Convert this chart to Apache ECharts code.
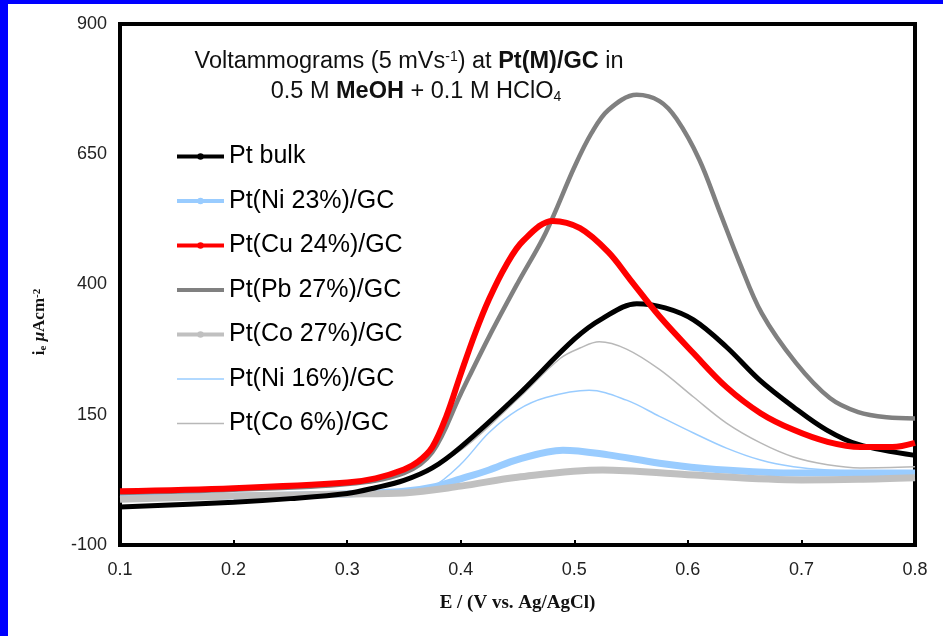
<!DOCTYPE html>
<html><head><meta charset="utf-8">
<script src="https://cdn.jsdelivr.net/npm/echarts@6/dist/echarts.min.js"></script>
<style>
html,body{margin:0;padding:0;background:#fff;}
#chart{position:absolute;left:0;top:0;width:943px;height:636px;}
.bl{position:absolute;left:0;top:0;width:8px;height:636px;background:#0000ff;z-index:5}
.bt{position:absolute;left:0;top:0;width:943px;height:4px;background:#0000ff;z-index:5}
</style></head><body>
<div id="chart"></div><div class="bl"></div><div class="bt"></div>
<script>
// Potential E (V vs. Ag/AgCl) and current density i (µA cm-2)
const ptBulkE = [0.10,0.20,0.25,0.30,0.325,0.35,0.375,0.40,0.45,0.50,0.525,0.555,0.58,0.605,0.634,0.663,0.693,0.722,0.75,0.80];
const ptBulkI = [-27,-18,-11,-1,10,24,48,88,187,295,335,363,355,332,280,217,165,121,93,72];
const ptCu24E = [0.10,0.20,0.30,0.325,0.35,0.3625,0.375,0.3875,0.40,0.4125,0.425,0.44,0.455,0.481,0.505,0.53,0.549,0.575,0.605,0.634,0.664,0.693,0.723,0.752,0.78,0.80];
const ptCu24I = [3,9,20,28,45,60,88,148,228,305,372,437,484,522,508,462,410,339,268,203,153,121,98,88,88,96];
const ptPb27E = [0.10,0.20,0.30,0.35,0.375,0.40,0.425,0.45,0.475,0.50,0.515,0.53,0.555,0.575,0.59,0.61,0.628,0.645,0.665,0.695,0.725,0.75,0.775,0.80];
const ptPb27I = [0,6,17,38,78,190,300,402,500,625,690,735,764,752,718,640,540,445,345,250,182,155,145,143];
const ptNi23E = [0.10,0.20,0.30,0.35,0.375,0.40,0.425,0.45,0.49,0.53,0.575,0.625,0.70,0.80];
const ptNi23I = [-8,-6,-2,3,11,27,44,64,82,73,57,45,38,38];
const ptCo27E = [0.10,0.20,0.30,0.35,0.40,0.45,0.525,0.60,0.70,0.75,0.80];
const ptCo27I = [-12,-6,-2,0,13,30,44,35,25,26,29];
const ptNi16E = [0.10,0.20,0.30,0.35,0.375,0.40,0.425,0.45,0.475,0.513,0.546,0.575,0.605,0.634,0.664,0.693,0.723,0.76,0.80];
const ptNi16I = [-8,-4,0,4,12,55,116,159,183,197,178,147,115,86,63,50,44,41,40];
const ptCo6E  = [0.10,0.20,0.30,0.35,0.40,0.45,0.4875,0.505,0.522,0.546,0.575,0.605,0.634,0.664,0.693,0.723,0.752,0.80];
const ptCo6I  = [-12,-6,2,22,82,180,258,278,290,276,237,184,134,96,69,54,48,50];
const seriesNames = ['Pt bulk','Pt(Ni 23%)/GC','Pt(Cu 24%)/GC','Pt(Pb 27%)/GC','Pt(Co 27%)/GC','Pt(Ni 16%)/GC','Pt(Co 6%)/GC'];
const yTicks = [-100,150,400,650,900];
const xTicks = [0.1,0.2,0.3,0.4,0.5,0.6,0.7,0.8];

function pairs(es, vals){ return es.map((e,i)=>[e, vals[i]]); }
function mk(name, es, vals, color, width, dot){
  return {name, type:'line', data:pairs(es, vals), smooth:0.35, showSymbol:false,
    symbol: dot ? 'circle' : 'none', symbolSize:6,
    lineStyle:{color, width}, itemStyle:{color}, emphasis:{disabled:true}};
}
const chart = echarts.init(document.getElementById('chart'), null, {renderer:'canvas'});
const sans = 'Liberation Sans, Arial, sans-serif';
const serif = 'Liberation Serif, Times New Roman, serif';
const tStyle = {
  n:{fontFamily:sans, fontSize:23.5, fill:'#111'},
  b:{fontFamily:sans, fontSize:23.5, fontWeight:'bold', fill:'#111'},
  sp:{fontFamily:sans, fontSize:14, fill:'#111', verticalAlign:'top'},
  sb:{fontFamily:sans, fontSize:14, fill:'#111', verticalAlign:'bottom'}
};
chart.setOption({
  animation:false,
  backgroundColor:'#fff',
  grid:{left:120, right:28, top:24, bottom:91, show:true, borderColor:'#000', borderWidth:4, backgroundColor:'transparent'},
  xAxis:{type:'value', min:xTicks[0], max:xTicks[xTicks.length-1], interval:0.1,
    name:'E / (V vs. Ag/AgCl)', nameLocation:'middle', nameGap:49,
    nameTextStyle:{fontFamily:serif, fontWeight:'bold', fontSize:19, color:'#111'},
    axisLine:{show:true, onZero:false, lineStyle:{color:'#000', width:4}},
    axisTick:{show:true, inside:true, length:5, lineStyle:{color:'#000', width:2}},
    axisLabel:{margin:16, fontFamily:sans, fontSize:18, color:'#222', formatter:v=>v.toFixed(1)},
    splitLine:{show:false}},
  yAxis:{type:'value', min:yTicks[0], max:yTicks[yTicks.length-1], interval:250,
    axisLine:{show:true, onZero:false, lineStyle:{color:'#000', width:4}},
    axisTick:{show:false},
    axisLabel:{margin:13, fontFamily:sans, fontSize:18, color:'#222'},
    splitLine:{show:false}},
  legend:{orient:'vertical', left:170, top:139, itemWidth:47, itemHeight:8, itemGap:19.5,
    textStyle:{fontFamily:sans, fontSize:25, color:'#000'},
    data:[
      {name:seriesNames[0], lineStyle:{width:4}},
      {name:seriesNames[1], lineStyle:{width:4}},
      {name:seriesNames[2], lineStyle:{width:4}},
      {name:seriesNames[3], lineStyle:{width:4}, itemStyle:{opacity:0}},
      {name:seriesNames[4], lineStyle:{width:4}},
      {name:seriesNames[5], lineStyle:{width:1.5}, itemStyle:{opacity:0}},
      {name:seriesNames[6], lineStyle:{width:1.5}, itemStyle:{opacity:0}}
    ]},
  graphic:[
    {type:'text', x:409, y:62, style:{
      text:'{n|Voltammograms (5 mVs}{sp|-1}{n|) at }{b|Pt(M)/GC}{n| in}',
      align:'center', verticalAlign:'middle', rich:tStyle}},
    {type:'text', x:416, y:92, style:{
      text:'{n|0.5 M }{b|MeOH}{n| + 0.1 M HClO}{sb|4}',
      align:'center', verticalAlign:'middle', rich:tStyle}},
    {type:'text', x:40, y:322, rotation:Math.PI/2, style:{
      text:'{i|i}{sub|e}{i| }{mu|μ}{i|Acm}{sup|-2}',
      align:'center', verticalAlign:'middle',
      rich:{i:{fontFamily:serif, fontWeight:'bold', fontSize:17, fill:'#111'},
            mu:{fontFamily:serif, fontWeight:'bold', fontStyle:'italic', fontSize:17, fill:'#111'},
            sub:{fontFamily:serif, fontWeight:'bold', fontSize:11, fill:'#111', verticalAlign:'bottom'},
            sup:{fontFamily:serif, fontWeight:'bold', fontSize:11, fill:'#111', verticalAlign:'top'}}}}
  ],
  series:[
    mk(seriesNames[6], ptCo6E, ptCo6I, '#b8b8b8', 1.5, false),
    mk(seriesNames[5], ptNi16E, ptNi16I, '#99ccff', 1.5, false),
    mk(seriesNames[1], ptNi23E, ptNi23I, '#99ccff', 7, true),
    mk(seriesNames[4], ptCo27E, ptCo27I, '#c0c0c0', 7, true),
    mk(seriesNames[3], ptPb27E, ptPb27I, '#808080', 4.5, false),
    mk(seriesNames[0], ptBulkE, ptBulkI, '#000000', 5, true),
    mk(seriesNames[2], ptCu24E, ptCu24I, '#ff0000', 6, true)
  ]
});
</script></body></html>
